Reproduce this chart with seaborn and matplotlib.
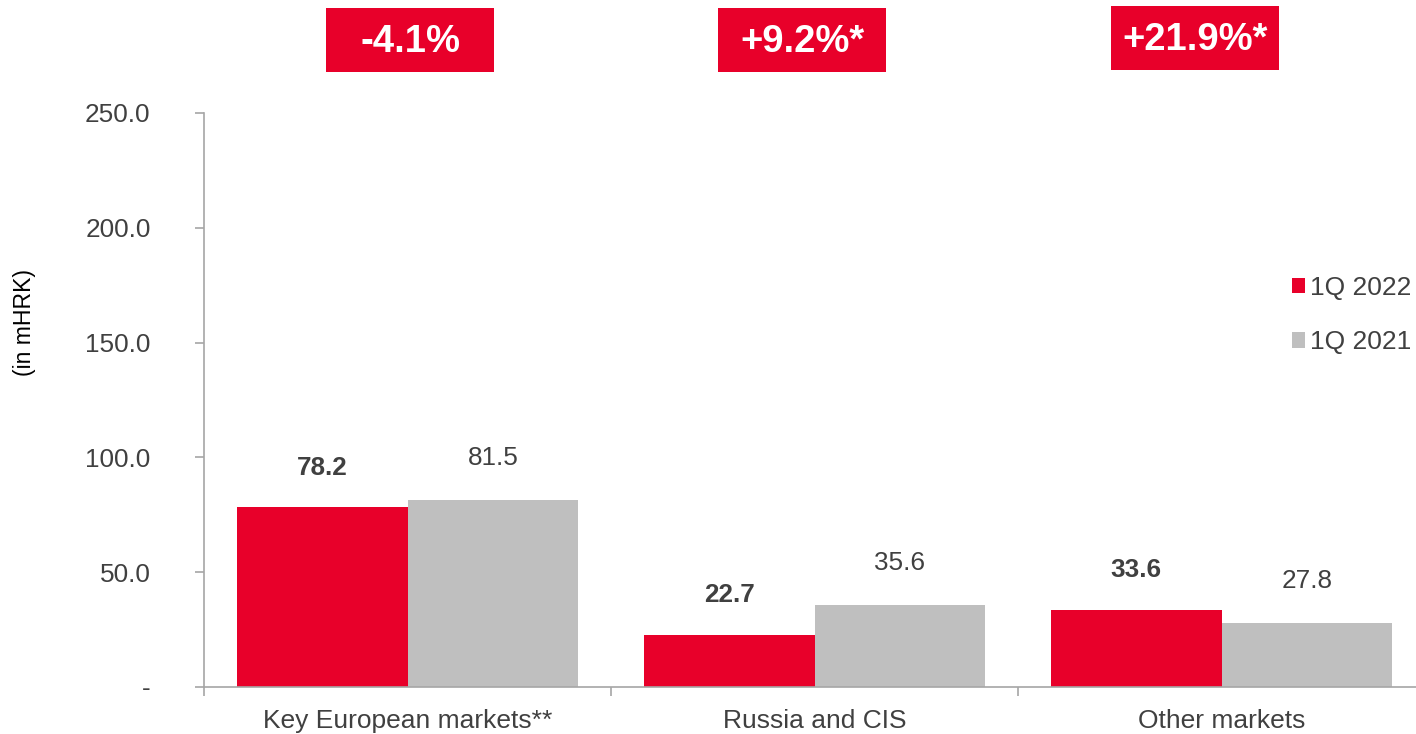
import matplotlib
matplotlib.use("Agg")
import matplotlib.pyplot as plt
import matplotlib.patches as mpatches
import seaborn as sns
import pandas as pd

# data
categories = ["Key European markets**", "Russia and CIS", "Other markets"]
periods = ["1Q 2022", "1Q 2021"]
values_2022 = [78.2, 22.7, 33.6]
values_2021 = [81.5, 35.6, 27.8]
changes = ["-4.1%", "+9.2%*", "+21.9%*"]
y_ticks = [0, 50, 100, 150, 200, 250]
y_tick_labels = ["-", "50.0", "100.0", "150.0", "200.0", "250.0"]

RED = "#E8002A"
GREY = "#BFBFBF"
TEXT = "#404040"
SPINE = "#A6A6A6"

df = pd.DataFrame({
    "market": categories * 2,
    "period": [periods[0]] * 3 + [periods[1]] * 3,
    "value": values_2022 + values_2021,
})

sns.set_theme(style="white")
plt.rcParams["font.family"] = ["Liberation Sans", "DejaVu Sans"]

W, H = 1416, 734
fig = plt.figure(figsize=(W / 100, H / 100), dpi=100)
# axes run a little past the right edge, as in the reference
ax = fig.add_axes([204 / W, 47 / H, 3 * 407 / W, (687 - 113) / H])

sns.barplot(data=df, x="market", y="value", hue="period", order=categories,
            hue_order=periods, palette=[RED, GREY], saturation=1, width=0.84,
            dodge=True, errorbar=None, legend=False, ax=ax, linewidth=0)

ax.set_ylim(0, 250)
ax.set_xlim(-0.5, 2.5)

# value labels: bold for current year, regular for prior year
ax.bar_label(ax.containers[0], fmt="%.1f", padding=20, fontsize=18.8,
             fontweight="bold", color=TEXT)
ax.bar_label(ax.containers[1], fmt="%.1f", padding=21.5, fontsize=18.8,
             color=TEXT)

# axes styling
for side in ["top", "right"]:
    ax.spines[side].set_visible(False)
for side in ["left", "bottom"]:
    ax.spines[side].set_color(SPINE)
    ax.spines[side].set_linewidth(1.2)

ax.set_yticks(y_ticks)
ax.set_yticklabels(y_tick_labels)
ax.tick_params(axis="y", length=6.5, width=1.2, color=SPINE, pad=32,
               labelsize=18.8, labelcolor=TEXT, left=True)

ax.set_xticks([-0.5, 0.5, 1.5, 2.5], minor=True)
ax.tick_params(axis="x", which="minor", length=6.5, width=1.2, color=SPINE,
               bottom=True)
ax.tick_params(axis="x", which="major", length=0, pad=15.5, labelsize=19,
               labelcolor=TEXT)
ax.set_xlabel("")
ax.set_ylabel("")
fig.text(25 / W, 1 - 323 / H, "(in mHRK)", rotation=90, fontsize=16.6,
         color="black", ha="center", va="center")

# legend with square markers
handles = [mpatches.Patch(facecolor=c, edgecolor="none") for c in (RED, GREY)]
fig.legend(handles, periods, loc="upper left",
           bbox_to_anchor=(1292 / W, 1 - 276 / H), frameon=False,
           fontsize=19, handlelength=0.5, handleheight=0.5,
           handletextpad=0.2, labelspacing=1.15, labelcolor=TEXT,
           borderaxespad=0, borderpad=0)

# change boxes above each group
box_centers = [410, 802, 1195]
box_tops = [8, 8, 6]
bw, bh = 168, 64
for cx, top, label in zip(box_centers, box_tops, changes):
    fig.patches.append(mpatches.Rectangle(
        ((cx - bw / 2) / W, 1 - (top + bh) / H), bw / W, bh / H,
        transform=fig.transFigure, facecolor=RED, edgecolor="none"))
    fig.text(cx / W, 1 - (top + bh / 2 + 2) / H, label, color="white",
             fontsize=27.5, fontweight="bold", ha="center", va="center")

fig.savefig("out.png", dpi=100)
